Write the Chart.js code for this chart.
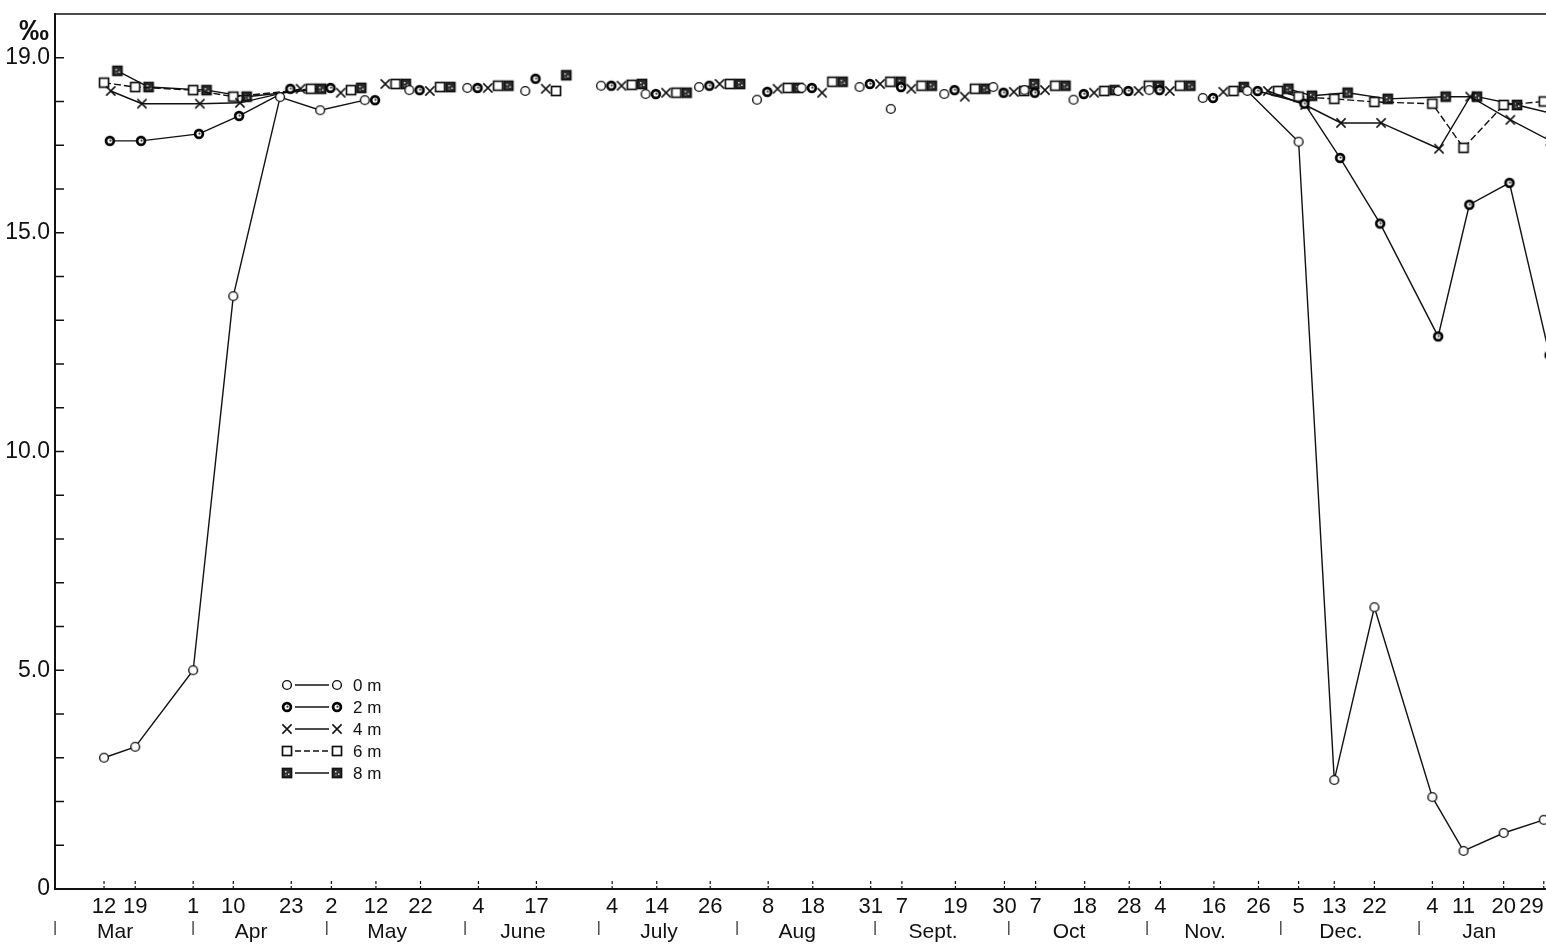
<!DOCTYPE html>
<html>
<head>
<meta charset="utf-8">
<title>Salinity</title>
<script src="https://cdn.jsdelivr.net/npm/chart.js"></script>
<style>
	html, body { margin: 0; padding: 0; background: #fff; }
	canvas { display: block; }
</style>
</head>
<body>
<canvas id="salinitycanvas" width="1546" height="952"></canvas>
<script>
// sampling dates, in days counted from 1 March
const sampleDays = [11, 18, 31, 40, 53, 62, 72, 82, 95, 108, 125, 135, 147, 160, 170, 183, 190, 202, 213, 220, 231, 241, 248, 260, 270, 279, 287, 296, 309, 316, 325, 334];
const dayLabels = ['12', '19', '1', '10', '23', '2', '12', '22', '4', '17', '4', '14', '26', '8', '18', '31', '7', '19', '30', '7', '18', '28', '4', '16', '26', '5', '13', '22', '4', '11', '20', '29'];
const monthStarts = [0, 31, 61, 92, 122, 153, 184, 214, 245, 275, 306, 337];
const monthNames = ['Mar', 'Apr', 'May', 'June', 'July', 'Aug', 'Sept.', 'Oct', 'Nov.', 'Dec.', 'Jan'];
const yLabelled = [0, 5, 10, 15, 19];

// salinity (per mille) at each depth
const depth0m = [3.0, 3.25, 5.0, 13.55, 18.1, 17.8, 18.03, 18.26, 18.31, 18.24, 18.36, 18.17, 18.33, 18.04, 18.31, 18.33, 17.83, 18.17, 18.33, 18.26, 18.04, 18.24, 18.26, 18.08, 18.24, 17.08, 2.49, 6.44, 2.1, 0.87, 1.28, 1.58];
const depth2m = [17.1, 17.1, 17.26, 17.67, 18.29, 18.31, 18.03, 18.26, 18.31, 18.52, 18.36, 18.17, 18.36, 18.22, 18.31, 18.4, 18.33, 18.26, 18.2, 18.2, 18.17, 18.24, 18.26, 18.08, 18.24, 17.95, 16.71, 15.21, 12.63, 15.64, 16.14, 12.2];
const depth4m = [18.24, 17.95, 17.95, 17.97, 18.29, 18.2, 18.4, 18.24, 18.31, 18.29, 18.36, 18.2, 18.4, 18.29, 18.2, 18.4, 18.29, 18.11, 18.22, 18.26, 18.2, 18.24, 18.24, 18.22, 18.24, 17.92, 17.51, 17.51, 16.92, 18.11, 17.58, 17.1];
const depth6m = [18.43, 18.33, 18.26, 18.11, 18.29, 18.26, 18.4, 18.33, 18.36, 18.24, 18.38, 18.2, 18.4, 18.31, 18.45, 18.45, 18.36, 18.29, 18.24, 18.36, 18.24, 18.36, 18.36, 18.24, 18.24, 18.11, 18.06, 17.99, 17.95, 16.94, 17.92, 18.0];
const depth8m = [18.7, 18.33, 18.26, 18.11, 18.29, 18.31, 18.4, 18.33, 18.36, 18.6, 18.4, 18.2, 18.4, 18.31, 18.45, 18.45, 18.36, 18.29, 18.4, 18.36, 18.26, 18.36, 18.36, 18.33, 18.29, 18.13, 18.2, 18.06, 18.11, 18.11, 17.92, 17.7];

const depthNames = ['0 m', '2 m', '4 m', '6 m', '8 m'];
const depthValues = [depth0m, depth2m, depth4m, depth6m, depth8m];

const fontFamily = "'Liberation Sans Narrow', 'Liberation Sans', Arial, sans-serif";
const ink = '#111';
const xMax = 334.5;

// markers sit side by side where the depths crowd together (summer), close together elsewhere
const spreadOffset = [-2.5, -0.2, 2.1, 4.4, 6.7];
const closeOffset = [0, 1.3, 1.5, 0, 3];
function markerDay(series, i) {
	const d = sampleDays[i];
	return d + (d >= 53 && d <= 270 ? spreadOffset[series] : closeOffset[series]);
}
// last index joined by a line in spring, first index joined again in winter
const springEnd = [6, 4, 4, 4, 4];
const winterStart = 24;

function makeMarker(kind) {
	const c = document.createElement('canvas');
	c.width = 14;
	c.height = 14;
	const g = c.getContext('2d');
	const m = 7;
	g.strokeStyle = ink;
	g.fillStyle = '#fff';
	if (kind === 0) {
		g.lineWidth = 1.4;
		g.beginPath(); g.arc(m, m, 4.4, 0, 2 * Math.PI); g.fill(); g.stroke();
	} else if (kind === 1) {
		g.strokeStyle = '#000';
		g.lineWidth = 2.7;
		g.beginPath(); g.arc(m, m, 3.9, 0, 2 * Math.PI); g.fill(); g.stroke();
		g.fillStyle = '#333';
		g.beginPath(); g.arc(m + 0.5, m - 0.3, 1.1, 0, 2 * Math.PI); g.fill();
	} else if (kind === 2) {
		g.lineWidth = 1.5;
		g.beginPath();
		g.moveTo(m - 4.6, m - 4.6); g.lineTo(m + 4.6, m + 4.6);
		g.moveTo(m + 4.6, m - 4.6); g.lineTo(m - 4.6, m + 4.6);
		g.stroke();
	} else if (kind === 3) {
		g.lineWidth = 1.7;
		g.fillRect(m - 4.5, m - 4.5, 9, 9);
		g.strokeRect(m - 4.5, m - 4.5, 9, 9);
	} else {
		g.lineWidth = 1.7;
		g.fillStyle = '#2e2e2e';
		g.fillRect(m - 4.5, m - 4.5, 9, 9);
		g.strokeRect(m - 4.5, m - 4.5, 9, 9);
		g.fillStyle = '#ddd';
		g.fillRect(m - 2, m - 2, 1.5, 1.5);
		g.fillRect(m + 1, m + 0.5, 1.5, 1.5);
		g.fillRect(m - 1.5, m + 1.5, 1, 1);
	}
	return c;
}
const markers = [0, 1, 2, 3, 4].map(makeMarker);

const datasets = depthValues.map(function(values, s) {
	return {
		label: depthNames[s],
		data: values.map((v, i) => ({x: markerDay(s, i), y: v})),
		borderColor: ink,
		borderWidth: 1.4,
		borderDash: s === 3 ? [7, 3] : [],
		pointStyle: markers[s],
		pointRadius: 5,
		tension: 0,
		segment: {
			borderColor: function(ctx) {
				const a = ctx.p0DataIndex, b = ctx.p1DataIndex;
				const joined = (b <= springEnd[s]) || (a >= winterStart);
				return joined ? ink : 'rgba(0,0,0,0)';
			}
		}
	};
});

// keep the frame flush with the canvas edges: no room reserved for half labels
function noEdgePadding(scale) {
	scale.paddingLeft = 0;
	scale.paddingRight = 0;
	scale.paddingTop = 0;
	scale.paddingBottom = 0;
}

const paperMarks = {
	id: 'paperMarks',
	afterDraw: function(chart) {
		const ctx = chart.ctx;
		const area = chart.chartArea;
		const y = chart.scales.y;
		const x = chart.scales.x;
		ctx.save();
		ctx.strokeStyle = ink;
		ctx.setLineDash([]);

		// top frame line
		ctx.lineWidth = 1.5;
		ctx.beginPath();
		ctx.moveTo(area.left, area.top);
		ctx.lineTo(area.right, area.top);
		ctx.stroke();

		// y ticks pointing into the plot
		y.ticks.forEach(function(t) {
			if (t.value >= 20) return;
			const py = y.getPixelForValue(t.value);
			ctx.beginPath();
			ctx.moveTo(area.left, py);
			ctx.lineTo(area.left + 9, py);
			ctx.stroke();
		});

		// date ticks pointing up from the time axis
		ctx.lineWidth = 1.2;
		ctx.setLineDash([3, 2]);
		x.ticks.forEach(function(t) {
			const px = x.getPixelForValue(t.value);
			ctx.beginPath();
			ctx.moveTo(px, area.bottom);
			ctx.lineTo(px, area.bottom - 9);
			ctx.stroke();
		});
		ctx.setLineDash([]);

		// unit
		ctx.fillStyle = ink;
		ctx.font = 'bold 30px ' + fontFamily;
		ctx.textAlign = 'center';
		ctx.textBaseline = 'middle';
		ctx.fillText('\u2030', 34, 32);

		// legend
		const lx = area.left + 232, ly = area.top + 671;
		ctx.font = '17px ' + fontFamily;
		ctx.textAlign = 'left';
		chart.data.datasets.forEach(function(ds, s) {
			const ry = ly + s * 22;
			ctx.lineWidth = 1.3;
			ctx.setLineDash(s === 3 ? [6, 3] : []);
			ctx.beginPath();
			ctx.moveTo(lx + 8, ry);
			ctx.lineTo(lx + 42, ry);
			ctx.stroke();
			ctx.setLineDash([]);
			ctx.drawImage(markers[s], lx - 7, ry - 7);
			ctx.drawImage(markers[s], lx + 43, ry - 7);
			ctx.fillText(ds.label, lx + 66, ry + 1);
		});
		ctx.restore();
	}
};

new Chart(
	document.getElementById('salinitycanvas'),
	{
		type: 'line',
		data: {datasets: datasets},
		plugins: [paperMarks],
		options: {
			responsive: false,
			animation: false,
			events: [],
			layout: {
				autoPadding: false,
				padding: {top: 14, right: 0, bottom: 0, left: 0}
			},
			plugins: {
				legend: {display: false},
				tooltip: {enabled: false}
			},
			scales: {
				x: {
					type: 'linear',
					min: 0,
					max: xMax,
					afterBuildTicks: function(scale) {
						scale.ticks = sampleDays.map(d => ({value: d}));
					},
					afterFit: function(scale) {
						scale.height = 30;
						noEdgePadding(scale);
					},
					grid: {display: false, drawTicks: false},
					border: {display: true, color: ink, width: 2},
					ticks: {
						autoSkip: false,
						maxRotation: 0,
						padding: 5,
						color: ink,
						font: {family: fontFamily, size: 22},
						callback: function(value, index) {
							// the last date sits on the cut edge: pad it so it stays readable
							if (index === dayLabels.length - 1) return dayLabels[index] + '\u2007\u2007';
							return dayLabels[index];
						}
					}
				},
				months: {
					type: 'linear',
					position: 'bottom',
					min: 0,
					max: xMax,
					afterBuildTicks: function(scale) {
						const ticks = [];
						monthNames.forEach(function(name, i) {
							ticks.push({value: monthStarts[i], sep: true});
							ticks.push({value: (monthStarts[i] + monthStarts[i + 1]) / 2 - 2, name: name});
						});
						scale.ticks = ticks.filter(t => t.value <= xMax);
					},
					afterFit: function(scale) {
						scale.height = 33;
						noEdgePadding(scale);
					},
					grid: {display: false, drawTicks: false},
					border: {display: false},
					ticks: {
						autoSkip: false,
						maxRotation: 0,
						padding: 1,
						color: ink,
						font: function(ctx) {
							const t = ctx.tick || {};
							return {family: fontFamily, size: t.sep ? 14 : 21};
						},
						callback: function(value, index, ticks) {
							const t = ticks[index];
							return t.sep ? '|' : t.name;
						}
					}
				},
				y: {
					type: 'linear',
					min: 0,
					max: 20,
					afterFit: function(scale) {
						scale.width = 55;
						noEdgePadding(scale);
					},
					grid: {display: false, drawTicks: false},
					border: {display: true, color: ink, width: 2},
					ticks: {
						stepSize: 1,
						autoSkip: false,
						padding: 5,
						color: ink,
						font: {family: fontFamily, size: 23},
						callback: function(value) {
							if (!yLabelled.includes(value)) return '';
							return value === 0 ? '0' : value.toFixed(1);
						}
					}
				}
			}
		}
	}
);
</script>
</body>
</html>
